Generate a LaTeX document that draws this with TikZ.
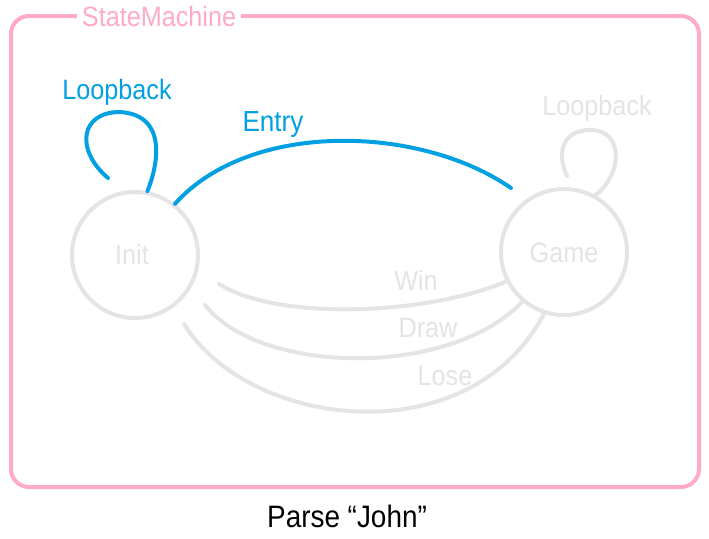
\documentclass[tikz,border=0pt]{standalone}
\usepackage{fontspec}
\setmainfont{Liberation Sans}[FakeStretch=0.9]
\definecolor{pinkc}{RGB}{255,170,200}
\definecolor{bluec}{RGB}{0,160,226}
\definecolor{grayc}{RGB}{228,228,228}
\begin{document}
\begin{tikzpicture}[x=1pt,y=-1pt,
  lbl/.style={anchor=base,inner sep=0pt,font=\fontsize{28}{30}\selectfont},
  state/.style={circle,draw=grayc,line width=4pt,minimum size=126pt,inner sep=0pt},
  grayline/.style={draw=grayc,line width=4pt,line cap=round},
  blueline/.style={draw=bluec,line width=4pt,line cap=round}]
\useasboundingbox[fill=white] (0,0) rectangle (709,538);
\draw[pinkc,line width=4pt,rounded corners=18pt] (11,16) rectangle (699,487);
\node[lbl,text=pinkc,fill=white,inner xsep=5pt,inner ysep=2pt] (title) at (159,26) {StateMachine};
\node[state] (init) at (135,255) {};
\node[state] (game) at (564,252) {};
\node[lbl,text=grayc] (initl) at (132,264) {Init};
\node[lbl,text=grayc] (gamel) at (564,262) {Game};
% endpoints
\coordinate (il) at (108,178);
\coordinate (ee) at (511,188);
\coordinate (gl) at (567,176);
\coordinate (ws) at (219,284);
\coordinate (ds) at (205,305);
\coordinate (ls) at (184,324);
% Init loopback
\draw[blueline] (init.79) .. controls (158,165) and (168,115) .. (120,112) .. controls (80,112) and (75,150) .. (il);
\node[lbl,text=bluec] (lb1) at (117,99) {Loopback};
% Entry
\draw[blueline] (init.52) .. controls (250,120) and (420,125) .. (ee);
\node[lbl,text=bluec,font=\fontsize{29}{30}\selectfont] (entry) at (273,131) {Entry};
% Game loopback
\draw[grayline] (game.61) .. controls (622,175) and (625,130) .. (590,130) .. controls (565,130) and (555,150) .. (gl);
\node[lbl,text=grayc] (lb2) at (597,115) {Loopback};
% Win / Draw / Lose
\draw[grayline] (game.207) .. controls (430,314) and (280,322) .. (ws);
\draw[grayline] (game.230) .. controls (450,378) and (260,375) .. (ds);
\draw[grayline] (game.252) .. controls (470,455) and (250,430) .. (ls);
\node[lbl,text=grayc] (win) at (416,290) {Win};
\node[lbl,text=grayc] (draw) at (428,337) {Draw};
\node[lbl,text=grayc] (lose) at (445,385) {Lose};
\node[lbl,text=black,font=\fontsize{31}{33}\selectfont] (cap) at (347,527) {Parse “John”};
\end{tikzpicture}
\end{document}
